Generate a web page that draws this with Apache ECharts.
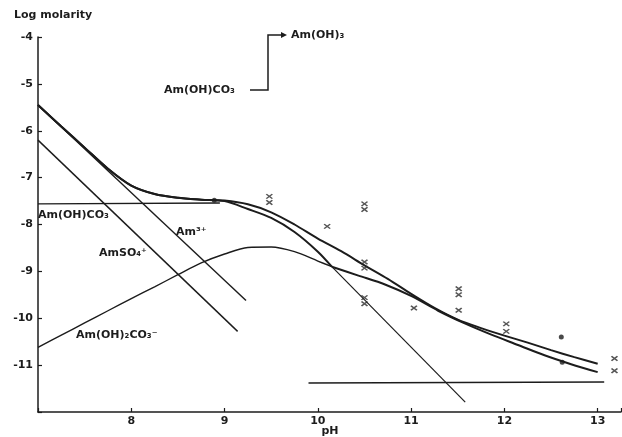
<!DOCTYPE html>
<html>
<head>
<meta charset="utf-8">
<script src="https://cdn.jsdelivr.net/npm/echarts@6/dist/echarts.min.js"></script>
<style>
html,body{margin:0;padding:0;background:#fff;}
#c{width:622px;height:437px;}
</style>
</head>
<body>
<div id="c"></div>
<script>
// ---- data (pH, log molarity) ----
var upperPH  = [7.0, 7.25, 7.5, 7.75, 8.0, 8.25, 8.5, 8.75, 9.0, 9.25, 9.5, 9.75, 10.0, 10.25, 10.5, 10.75, 11.0, 11.25, 11.5, 11.75, 12.0, 12.25, 12.5, 12.75, 13.0];
var upperLog = [-5.45, -5.91, -6.36, -6.81, -7.17, -7.35, -7.43, -7.47, -7.49, -7.57, -7.74, -8.0, -8.30, -8.57, -8.87, -9.16, -9.48, -9.78, -10.03, -10.21, -10.37, -10.52, -10.68, -10.83, -10.97];

var lowerAPH  = [7.0, 7.25, 7.5, 7.75, 8.0, 8.25, 8.5, 8.75, 9.0, 9.25, 9.5, 9.75, 10.0, 10.15];
var lowerALog = [-5.45, -5.91, -6.36, -6.81, -7.17, -7.35, -7.43, -7.47, -7.5, -7.67, -7.86, -8.16, -8.58, -8.9];

var lowerBPH  = [10.15, 10.435, 10.72, 11.005, 11.29, 11.575, 11.86, 12.145, 12.43, 12.715, 13.0];
var lowerBLog = [-8.90, -9.09, -9.28, -9.53, -9.84, -10.11, -10.35, -10.57, -10.79, -10.98, -11.15];

var am3PH = [7.0, 9.23];
var am3Log = [-5.45, -9.62];

var amso4PH = [7.0, 9.14];
var amso4Log = [-6.2, -10.28];

var amohco3PH = [7.0, 8.95];
var amohco3Log = [-7.56, -7.54];

var amoh2co3PH  = [7.0, 7.25, 7.5, 7.75, 8.0, 8.25, 8.5, 8.75, 9.0, 9.25, 9.5, 9.75, 10.0, 10.15];
var amoh2co3Log = [-10.62, -10.36, -10.1, -9.84, -9.58, -9.33, -9.07, -8.82, -8.63, -8.49, -8.48, -8.58, -8.78, -8.9];

var steepPH = [10.15, 11.58];
var steepLog = [-8.9, -11.79];

var amoh3PH = [9.9, 13.07];
var amoh3Log = [-11.38, -11.36];

var crossPH  = [9.48, 9.48, 10.1, 10.5, 10.5, 10.5, 10.5, 10.5, 10.5, 11.03, 11.51, 11.51, 11.51, 12.02, 12.02, 13.18, 13.18];
var crossLog = [-7.40, -7.53, -8.04, -7.56, -7.68, -8.80, -8.93, -9.56, -9.69, -9.78, -9.37, -9.50, -9.83, -10.12, -10.28, -10.86, -11.12];

var dotPH  = [8.89, 12.61, 12.62];
var dotLog = [-7.48, -10.40, -10.94];

var xTicks = [8, 9, 10, 11, 12, 13];
var yTicks = [-4, -5, -6, -7, -8, -9, -10, -11];

function pairs(xs, ys){ return xs.map(function(x,i){ return [x, ys[i]]; }); }

var INK = '#1c1c1c';
var FONT = 'DejaVu Sans';

function lineSeries(xs, ys, w, smooth){
  return {
    type: 'line', data: pairs(xs, ys), showSymbol: false, smooth: smooth ? 0.3 : false,
    lineStyle: {color: INK, width: w}, silent: true, z: 3, animation: false
  };
}

var chart = echarts.init(document.getElementById('c'), null, {renderer: 'canvas'});
var opt = {
  backgroundColor: '#ffffff',
  animation: false,
  grid: {left: 38, right: 1, top: 37, bottom: 25, containLabel: false, outerBoundsMode: 'none'},
  xAxis: {
    type: 'value', min: 7, max: 13.25, interval: 1,
    axisLine: {lineStyle: {color: INK, width: 1.5}},
    axisTick: {inside: true, length: 4, lineStyle: {color: INK, width: 1.2}},
    axisLabel: {color: INK, fontFamily: FONT, fontSize: 11, fontWeight: 'bold', margin: 4,
      formatter: function(v){ return xTicks.indexOf(v) >= 0 ? String(v) : ''; }},
    splitLine: {show: false}
  },
  yAxis: {
    type: 'value', min: -12, max: -4, interval: 1,
    axisLine: {lineStyle: {color: INK, width: 1.5}},
    axisTick: {inside: true, length: 4, lineStyle: {color: INK, width: 1.2}},
    axisLabel: {color: INK, fontFamily: FONT, fontSize: 11, fontWeight: 'bold', margin: 5,
      formatter: function(v){ return yTicks.indexOf(v) >= 0 ? String(v) : ''; }},
    splitLine: {show: false}
  },
  series: [
    lineSeries(upperPH, upperLog, 2, true),
    lineSeries(lowerAPH, lowerALog, 2, true),
    lineSeries(lowerBPH, lowerBLog, 2, true),
    lineSeries(am3PH, am3Log, 1.4, false),
    lineSeries(amso4PH, amso4Log, 1.4, false),
    lineSeries(amohco3PH, amohco3Log, 1.4, false),
    lineSeries(amoh2co3PH, amoh2co3Log, 1.4, true),
    lineSeries(steepPH, steepLog, 1.2, false),
    lineSeries(amoh3PH, amoh3Log, 1.4, false),
    {
      type: 'scatter', data: pairs(crossPH, crossLog),
      symbol: 'path://M0,0L10,8M10,0L0,8', symbolSize: [6, 4.5],
      itemStyle: {color: 'rgba(0,0,0,0)', borderColor: '#2a2a2a', borderWidth: 1.5},
      z: 5, silent: true
    },
    {
      type: 'scatter', data: pairs(dotPH, dotLog),
      symbol: 'circle', symbolSize: 5,
      itemStyle: {color: '#1c1c1c'}, z: 5, silent: true
    }
  ],
  graphic: [
    {type: 'text', left: 14, top: 10, style: {text: 'Log molarity', fill: INK, font: 'bold 11px "DejaVu Sans"'}},
    {type: 'text', x: 330, y: 431, style: {text: 'pH', fill: INK, font: 'bold 11px "DejaVu Sans"', align: 'center', verticalAlign: 'middle'}},
    {type: 'text', x: 38, y: 215, style: {text: 'Am(OH)CO\u2083', fill: INK, font: 'bold 11px "DejaVu Sans"', verticalAlign: 'middle'}},
    {type: 'text', x: 176, y: 232, style: {text: 'Am\u00b3\u207a', fill: INK, font: 'bold 11px "DejaVu Sans"', verticalAlign: 'middle'}},
    {type: 'text', x: 99, y: 253, style: {text: 'AmSO\u2084\u207a', fill: INK, font: 'bold 11px "DejaVu Sans"', verticalAlign: 'middle'}},
    {type: 'text', x: 76, y: 335, style: {text: 'Am(OH)\u2082CO\u2083\u207b', fill: INK, font: 'bold 11px "DejaVu Sans"', verticalAlign: 'middle'}},
    {type: 'text', x: 164, y: 90, style: {text: 'Am(OH)CO\u2083', fill: INK, font: 'bold 11px "DejaVu Sans"', verticalAlign: 'middle'}},
    {type: 'polyline', shape: {points: [[250, 90], [268, 90], [268, 35], [282, 35]]}, style: {stroke: INK, lineWidth: 1.5, fill: null}},
    {type: 'polygon', shape: {points: [[281, 32], [287, 35], [281, 38]]}, style: {fill: INK}},
    {type: 'text', x: 291, y: 35, style: {text: 'Am(OH)\u2083', fill: INK, font: 'bold 11px "DejaVu Sans"', verticalAlign: 'middle'}}
  ]
};
chart.setOption(opt);
</script>
</body>
</html>
